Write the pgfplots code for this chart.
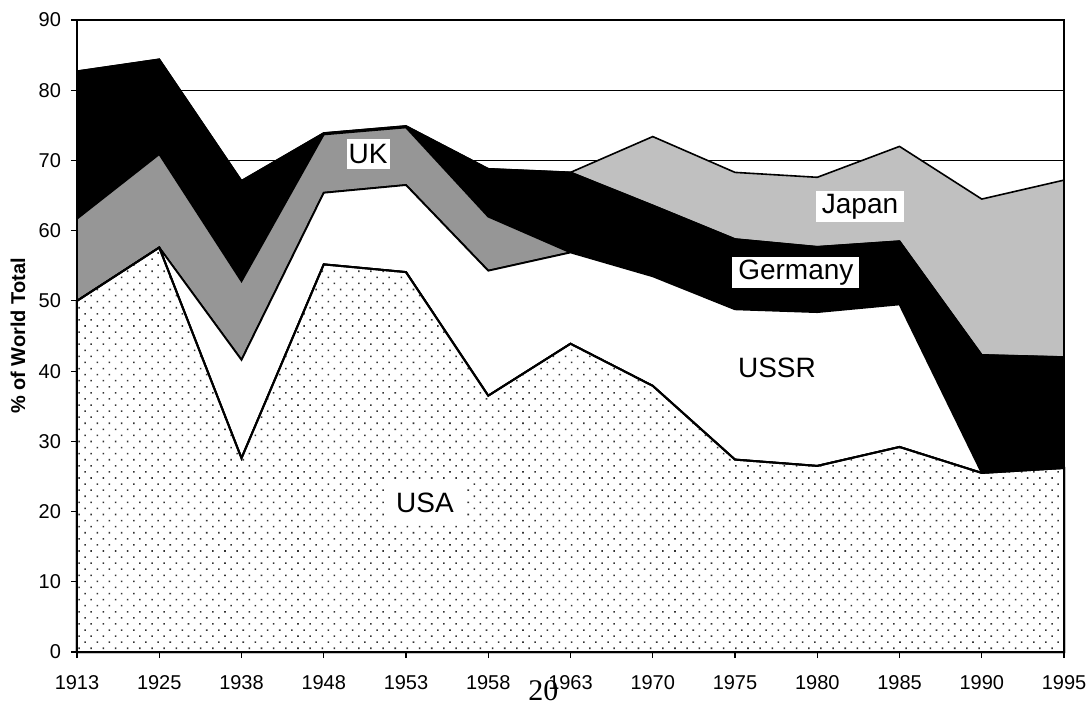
\documentclass[border=0pt]{standalone}
\usepackage{fontspec}
\setmainfont{Liberation Sans}
\newfontfamily\serifpage{Liberation Serif}
\usepackage{pgfplots}
\pgfplotsset{compat=1.18}
\usetikzlibrary{patterns.meta}
\definecolor{ukgray}{RGB}{150,150,150}
\definecolor{jpgray}{RGB}{192,192,192}
\begin{document}
\begin{tikzpicture}
\begin{axis}[
  scale only axis, width=493.5pt, height=316pt,
  xmin=0, xmax=12, ymin=0, ymax=90,
  xtick={0,...,12},
  xticklabels={1913,1925,1938,1948,1953,1958,1963,1970,1975,1980,1985,1990,1995},
  ytick={0,10,...,90},
  stack plots=y,
  ymajorgrids, grid style={black, line width=0.5pt},
  tick align=outside, major tick length=3pt,
  tick style={black, line width=0.6pt},
  xtick pos=left, ytick pos=left,
  axis line style={line width=1pt},
  ticklabel style={font=\fontsize{10}{12}\selectfont},
  xticklabel style={yshift=-5pt},
  yticklabel style={xshift=-1.5pt},
  /pgf/number format/assume math mode=true,
  ylabel={\bfseries \% of World Total},
  ylabel style={font=\fontsize{10.3}{12}\selectfont},
  every axis y label/.style={at={(rel axis cs:0,0.5)}, xshift=-29.5pt, rotate=90, anchor=center},
  clip=false,
]
\coordinate (O) at (rel axis cs:0,0);
\coordinate (ukpos) at (axis cs:3.54,70.9);
\coordinate (jppos) at (axis cs:9.52,63.4);
\coordinate (depos) at (axis cs:8.74,54.0);
\coordinate (supos) at (axis cs:8.51,40.4);
\coordinate (uspos) at (axis cs:4.23,21.2);
\coordinate (pgpos) at (axis cs:5.67,-6.85);
% USA
\addplot[draw=black, line width=1pt, fill=white,
  postaction={pattern={Dots[distance=4.3pt, angle=45, radius=0.55pt]}, pattern color=black!80}]
  coordinates {(0,50.0)(1,57.6)(2,27.6)(3,55.2)(4,54.1)(5,36.5)(6,43.9)(7,37.9)(8,27.4)(9,26.5)(10,29.2)(11,25.5)(12,26.2)} \closedcycle;
% USSR
\addplot[draw=black, line width=0.9pt, fill=white]
  coordinates {(0,0)(1,0)(2,14.0)(3,10.2)(4,12.4)(5,17.8)(6,13.0)(7,15.6)(8,21.4)(9,21.9)(10,20.3)(11,0)(12,0)} \closedcycle;
% UK
\addplot[draw=black, line width=0.9pt, fill=ukgray]
  coordinates {(0,11.7)(1,13.3)(2,11.2)(3,8.3)(4,8.2)(5,7.7)(6,0)(7,0)(8,0)(9,0)(10,0)(11,0)(12,0)} \closedcycle;
% Germany
\addplot[draw=black, line width=0.9pt, fill=black]
  coordinates {(0,21.0)(1,13.5)(2,14.3)(3,0.2)(4,0.2)(5,6.8)(6,11.4)(7,10.1)(8,10.0)(9,9.3)(10,9.0)(11,16.8)(12,15.8)} \closedcycle;
% Japan
\addplot[draw=black, line width=0.8pt, fill=jpgray]
  coordinates {(0,0)(1,0)(2,0)(3,0)(4,0)(5,0)(6,0)(7,9.8)(8,9.5)(9,9.9)(10,13.5)(11,22.2)(12,25.2)} \closedcycle;
\end{axis}
\node[fill=white, inner xsep=1pt, inner ysep=2.5pt, font=\fontsize{14}{16}\selectfont] at (ukpos) {UK};
\node[fill=white, inner xsep=3pt, inner ysep=1.5pt, font=\fontsize{14}{16}\selectfont] at (jppos) {Japan};
\node[fill=white, inner xsep=3pt, inner ysep=1.5pt, font=\fontsize{14}{16}\selectfont] at (depos) {Germany};
\node[font=\fontsize{14}{16}\selectfont] at (supos) {USSR};
\node[fill=white, inner xsep=5pt, inner ysep=5pt, font=\fontsize{14}{16}\selectfont] at (uspos) {USA};
\node[anchor=base, font=\serifpage\fontsize{15}{17}\selectfont] at (pgpos) {20};
\pgfresetboundingbox
\path[use as bounding box] (O) ++(-38.5pt,-25.5pt) rectangle ++(546pt,351.5pt);
\end{tikzpicture}
\end{document}
